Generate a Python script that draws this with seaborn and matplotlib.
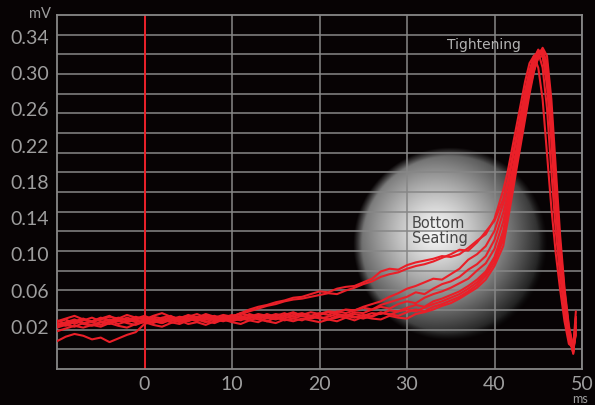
import numpy as np
import pandas as pd
import matplotlib
matplotlib.use('Agg')
import matplotlib.pyplot as plt
import seaborn as sns

# Sample times (ms) shared by all traces
t_ms = [-10, -9, -8, -7, -6, -5, -4, -3, -2, -1,
        0, 1, 2, 3, 4, 5, 6, 7, 8, 9,
        10, 11, 12, 13, 14, 15, 16, 17, 18, 19,
        20, 21, 22, 23, 24, 25, 26, 27, 28, 29,
        30, 31, 32, 33, 34, 35, 36, 37, 38, 39,
        40,
        41, 41.5, 42, 42.5, 43, 43.5, 44, 44.5, 45, 45.5,
        46, 46.5, 47, 47.5, 48, 48.5, 49, 49.3]

# Signal traces (mV)
trace_1 = [0.024, 0.027, 0.022, 0.026, 0.029, 0.025, 0.023, 0.028, 0.026, 0.030,
           0.027, 0.024, 0.029, 0.031, 0.026, 0.028, 0.030, 0.027, 0.029, 0.032,
           0.030, 0.034, 0.038, 0.041, 0.043, 0.046, 0.048, 0.051, 0.052, 0.055,
           0.058, 0.057, 0.061, 0.063, 0.064, 0.068, 0.072, 0.080, 0.083, 0.082,
           0.087, 0.090, 0.092, 0.094, 0.097, 0.096, 0.099, 0.106, 0.114, 0.121,
           0.138,
           0.170, 0.190, 0.215, 0.240, 0.265, 0.290, 0.310, 0.318, 0.305, 0.270,
           0.210, 0.150, 0.100, 0.060, 0.025, 0.000, -0.004, 0.012]
trace_2 = [0.021, 0.024, 0.027, 0.023, 0.025, 0.028, 0.031, 0.026, 0.024, 0.027,
           0.029, 0.026, 0.023, 0.027, 0.030, 0.028, 0.025, 0.029, 0.031, 0.028,
           0.031, 0.033, 0.036, 0.039, 0.042, 0.044, 0.047, 0.049, 0.050, 0.052,
           0.054, 0.056, 0.055, 0.059, 0.062, 0.066, 0.069, 0.074, 0.077, 0.079,
           0.083, 0.086, 0.088, 0.091, 0.095, 0.099, 0.104, 0.103, 0.112, 0.124,
           0.136,
           0.160, 0.180, 0.205, 0.230, 0.255, 0.280, 0.302, 0.318, 0.322, 0.305,
           0.260, 0.190, 0.125, 0.075, 0.035, 0.005, -0.008, 0.018]
trace_3 = [0.019, 0.023, 0.026, 0.022, 0.020, 0.024, 0.027, 0.025, 0.029, 0.026,
           0.024, 0.028, 0.026, 0.030, 0.027, 0.025, 0.029, 0.032, 0.028, 0.026,
           0.029, 0.031, 0.028, 0.032, 0.030, 0.033, 0.031, 0.034, 0.032, 0.035,
           0.033, 0.036, 0.035, 0.038, 0.037, 0.041, 0.044, 0.047, 0.052, 0.056,
           0.061, 0.064, 0.068, 0.072, 0.071, 0.077, 0.083, 0.093, 0.099, 0.108,
           0.125,
           0.155, 0.175, 0.200, 0.225, 0.250, 0.275, 0.298, 0.315, 0.325, 0.318,
           0.285, 0.225, 0.150, 0.090, 0.045, 0.010, -0.010, 0.030]
trace_4 = [0.026, 0.022, 0.025, 0.028, 0.024, 0.021, 0.025, 0.029, 0.027, 0.024,
           0.026, 0.030, 0.028, 0.025, 0.029, 0.031, 0.027, 0.024, 0.028, 0.030,
           0.027, 0.029, 0.033, 0.030, 0.028, 0.031, 0.034, 0.030, 0.033, 0.031,
           0.034, 0.032, 0.036, 0.034, 0.037, 0.040, 0.038, 0.043, 0.046, 0.049,
           0.052, 0.057, 0.055, 0.061, 0.066, 0.069, 0.074, 0.082, 0.088, 0.097,
           0.115,
           0.145, 0.165, 0.190, 0.215, 0.242, 0.270, 0.295, 0.313, 0.324, 0.320,
           0.292, 0.230, 0.155, 0.095, 0.045, 0.012, -0.006, 0.024]
trace_5 = [0.023, 0.020, 0.024, 0.027, 0.025, 0.029, 0.026, 0.022, 0.025, 0.028,
           0.031, 0.027, 0.025, 0.029, 0.026, 0.030, 0.033, 0.029, 0.026, 0.029,
           0.032, 0.028, 0.030, 0.033, 0.031, 0.028, 0.032, 0.035, 0.031, 0.029,
           0.032, 0.035, 0.033, 0.031, 0.035, 0.034, 0.038, 0.041, 0.039, 0.044,
           0.047, 0.045, 0.051, 0.055, 0.058, 0.062, 0.067, 0.072, 0.081, 0.089,
           0.105,
           0.135, 0.158, 0.185, 0.210, 0.238, 0.265, 0.290, 0.310, 0.322, 0.325,
           0.300, 0.240, 0.165, 0.100, 0.050, 0.012, -0.011, 0.020]
trace_6 = [0.018, 0.021, 0.019, 0.023, 0.021, 0.024, 0.022, 0.026, 0.023, 0.021,
           0.025, 0.023, 0.027, 0.024, 0.022, 0.026, 0.028, 0.025, 0.023, 0.027,
           0.025, 0.028, 0.026, 0.024, 0.029, 0.027, 0.030, 0.028, 0.026, 0.030,
           0.029, 0.027, 0.031, 0.029, 0.033, 0.031, 0.034, 0.033, 0.037, 0.036,
           0.040, 0.043, 0.041, 0.047, 0.050, 0.054, 0.058, 0.064, 0.071, 0.080,
           0.096,
           0.125, 0.150, 0.178, 0.205, 0.232, 0.260, 0.285, 0.305, 0.318, 0.322,
           0.305, 0.250, 0.170, 0.105, 0.055, 0.015, -0.008, 0.028]
trace_7 = [0.025, 0.028, 0.031, 0.027, 0.024, 0.027, 0.030, 0.028, 0.032, 0.029,
           0.027, 0.031, 0.034, 0.030, 0.028, 0.032, 0.029, 0.033, 0.030, 0.027,
           0.030, 0.034, 0.031, 0.029, 0.033, 0.030, 0.028, 0.032, 0.034, 0.031,
           0.028, 0.030, 0.033, 0.031, 0.029, 0.032, 0.030, 0.034, 0.033, 0.031,
           0.035, 0.038, 0.036, 0.041, 0.044, 0.048, 0.052, 0.058, 0.065, 0.075,
           0.090,
           0.115, 0.142, 0.170, 0.198, 0.225, 0.253, 0.280, 0.302, 0.316, 0.325,
           0.310, 0.258, 0.180, 0.110, 0.058, 0.018, -0.005, 0.010]
trace_8 = [0.014, 0.017, 0.020, 0.018, 0.021, 0.019, 0.023, 0.020, 0.018, 0.022,
           0.024, 0.021, 0.019, 0.023, 0.026, 0.022, 0.024, 0.021, 0.025, 0.027,
           0.024, 0.022, 0.026, 0.029, 0.025, 0.023, 0.027, 0.025, 0.028, 0.026,
           0.024, 0.027, 0.025, 0.029, 0.026, 0.030, 0.028, 0.027, 0.031, 0.029,
           0.028, 0.033, 0.035, 0.038, 0.042, 0.045, 0.050, 0.056, 0.062, 0.071,
           0.086,
           0.108, 0.135, 0.163, 0.192, 0.220, 0.248, 0.276, 0.300, 0.318, 0.327,
           0.318, 0.270, 0.195, 0.120, 0.062, 0.020, -0.004, 0.036]
trace_9 = [0.003, 0.008, 0.011, 0.009, 0.005, 0.007, 0.002, 0.006, 0.010, 0.013,
           0.022, 0.025, 0.023, 0.027, 0.024, 0.028, 0.026, 0.030, 0.027, 0.025,
           0.028, 0.026, 0.030, 0.027, 0.025, 0.029, 0.026, 0.028, 0.031, 0.028,
           0.030, 0.027, 0.029, 0.032, 0.030, 0.028, 0.031, 0.035, 0.032, 0.036,
           0.038, 0.036, 0.040, 0.044, 0.047, 0.051, 0.055, 0.061, 0.068, 0.078,
           0.094,
           0.120, 0.146, 0.174, 0.200, 0.228, 0.256, 0.282, 0.303, 0.316, 0.318,
           0.296, 0.240, 0.165, 0.100, 0.050, 0.010, -0.009, 0.015]

traces = [trace_1, trace_2, trace_3, trace_4, trace_5,
          trace_6, trace_7, trace_8, trace_9]

y_tick_values = [0.02, 0.06, 0.10, 0.14, 0.18, 0.22, 0.26, 0.30, 0.34]
y_tick_labels = ['0.02', '0.06', '0.10', '0.14', '0.18', '0.22', '0.26', '0.30', '0.34']
x_tick_values = [0, 10, 20, 30, 40, 50]
x_tick_labels = ['0', '10', '20', '30', '40', '50']

bg = '#070304'
grid_col = '#878787'
red = '#ea1f28'
text_col = '#9e9e9e'

sns.set_style('dark', {'axes.facecolor': bg, 'figure.facecolor': bg})
plt.rcParams['font.family'] = ['Lato', 'DejaVu Sans']

# long-form table for seaborn
rows = []
for i, vals in enumerate(traces):
    for t, v in zip(t_ms, vals):
        rows.append((t, v, i))
df = pd.DataFrame(rows, columns=['ms', 'mV', 'trace'])

fig = plt.figure(figsize=(5.95, 4.06), dpi=100, facecolor=bg)
ax = fig.add_axes([57 / 595, 36 / 406, 525 / 595, 354 / 406])
ax.set_facecolor(bg)

y_lo, y_hi = -0.0277, 0.3632
ax.set_xlim(-10, 50)
ax.set_ylim(y_lo, y_hi)

# soft white glow behind "Bottom Seating"
n = 300
u = np.linspace(-1, 1, n)
U, V = np.meshgrid(u, u)
r = np.sqrt(U ** 2 + V ** 2)
d = np.sqrt((U + 0.15) ** 2 + (V - 0.12) ** 2)
inten = np.clip(0.97 - 0.74 * np.clip(d, 0, 1.3) ** 1.3, 0, 1)
alpha = np.clip((1 - r) / 0.09, 0, 1)
img = np.dstack([inten, inten, inten, alpha])
cx, cy = 34.9, 0.110
rx, ry = 11.1, 0.107
ax.imshow(img, extent=[cx - rx, cx + rx, cy - ry, cy + ry], origin='lower',
          aspect='auto', zorder=0, interpolation='bilinear')

# grid
ax.set_yticks(y_tick_values)
ax.set_yticklabels(y_tick_labels)
ax.set_yticks(np.linspace(y_lo, y_hi, 19)[1:-1], minor=True)
ax.set_xticks(x_tick_values)
ax.set_xticklabels(x_tick_labels)
ax.grid(False)
ax.yaxis.grid(True, which='minor', color=grid_col, lw=1.1)
ax.xaxis.grid(True, which='major', color=grid_col, lw=1.1)
ax.set_axisbelow(True)
ax.tick_params(axis='both', which='both', length=0, colors=text_col, labelsize=14)
ax.tick_params(axis='y', pad=6)
ax.tick_params(axis='x', pad=4)
for s in ax.spines.values():
    s.set_visible(True)
    s.set_color(grid_col)
    s.set_linewidth(1.3)

ax.axvline(0, color=red, lw=1.4, zorder=2.5)

sns.lineplot(data=df, x='ms', y='mV', units='trace', estimator=None,
             color=red, lw=1.5, ax=ax, legend=False, zorder=3)
ax.set_xlabel('')
ax.set_ylabel('')

# unit labels and annotations
fig.text(40 / 595, 1 - 14 / 406, 'mV', color=text_col, fontsize=10.5,
         ha='center', va='center')
fig.text(580 / 595, 1 - 405 / 406, 'ms', color=text_col, fontsize=9,
         ha='center', va='bottom')
fig.text(447 / 595, 1 - 45 / 406, 'Tightening', color='#b3b3b3', fontsize=10,
         ha='left', va='center', family=['DejaVu Sans'])
fig.text(412 / 595, 1 - 231 / 406, 'Bottom\nSeating', color='#474747',
         fontsize=10.5, ha='left', va='center', linespacing=1.05,
         family=['DejaVu Sans'])

fig.savefig('out.png', dpi=100, facecolor=bg)
